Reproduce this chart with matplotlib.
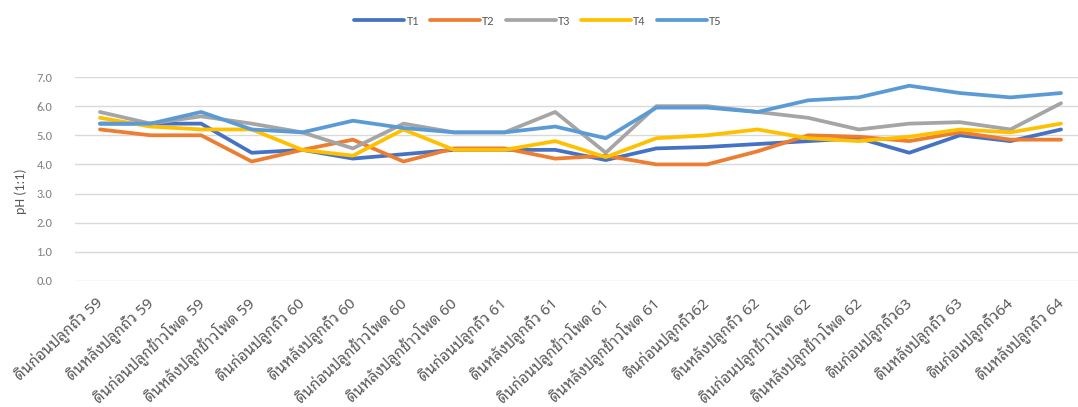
import matplotlib
matplotlib.use("Agg")
import matplotlib.pyplot as plt
from matplotlib import font_manager

# pick a font that has Thai glyphs, keep DejaVu as fallback for the rest
have = {f.name for f in font_manager.fontManager.ttflist}
thai = [n for n in ["Noto Sans Thai Looped", "Noto Sans Thai", "Sarabun", "Prompt", "Kanit"] if n in have]
latin = [n for n in ["Carlito", "Open Sans"] if n in have]
plt.rcParams["font.family"] = latin[:1] + thai[:1] + ["DejaVu Sans"]

# ---- data ----
categories = [
    "ดินก่อนปลูกถั่ว 59", "ดินหลังปลูกถั่ว 59",
    "ดินก่อนปลูกข้าวโพด 59", "ดินหลังปลูกข้าวโพด 59",
    "ดินก่อนปลูกถั่ว 60", "ดินหลังปลูกถั่ว 60",
    "ดินก่อนปลูกข้าวโพด 60", "ดินหลังปลูกข้าวโพด 60",
    "ดินก่อนปลูกถั่ว 61", "ดินหลังปลูกถั่ว 61",
    "ดินก่อนปลูกข้าวโพด 61", "ดินหลังปลูกข้าวโพด 61",
    "ดินก่อนปลูกถั่ว62", "ดินหลังปลูกถั่ว 62",
    "ดินก่อนปลูกข้าวโพด 62", "ดินหลังปลูกข้าวโพด 62",
    "ดินก่อนปลูกถั่ว63", "ดินหลังปลูกถั่ว 63",
    "ดินก่อนปลูกถั่ว64", "ดินหลังปลูกถั่ว 64",
]
T1 = [5.4, 5.4, 5.4, 4.4, 4.5, 4.2, 4.35, 4.5, 4.5, 4.5,
      4.15, 4.55, 4.6, 4.7, 4.8, 4.9, 4.4, 5.0, 4.8, 5.2]
T2 = [5.2, 5.0, 5.0, 4.1, 4.5, 4.85, 4.1, 4.55, 4.55, 4.2,
      4.3, 4.0, 4.0, 4.45, 5.0, 4.95, 4.8, 5.1, 4.85, 4.85]
T3 = [5.8, 5.4, 5.65, 5.4, 5.1, 4.55, 5.4, 5.1, 5.1, 5.8,
      4.4, 6.0, 6.0, 5.8, 5.6, 5.2, 5.4, 5.45, 5.2, 6.1]
T4 = [5.6, 5.3, 5.2, 5.2, 4.5, 4.3, 5.2, 4.5, 4.5, 4.8,
      4.25, 4.9, 5.0, 5.2, 4.9, 4.8, 4.95, 5.2, 5.1, 5.4]
T5 = [5.4, 5.4, 5.8, 5.2, 5.1, 5.5, 5.25, 5.1, 5.1, 5.3,
      4.9, 5.95, 5.95, 5.8, 6.2, 6.3, 6.7, 6.45, 6.3, 6.45]
series = {"T1": T1, "T2": T2, "T3": T3, "T4": T4, "T5": T5}
colors = {"T1": "#4472C4", "T2": "#ED7D31", "T3": "#A5A5A5",
          "T4": "#FFC000", "T5": "#5B9BD5"}

fig = plt.figure(figsize=(10.78, 4.07), dpi=100)
ax = fig.add_axes([0.0693, 0.3096, 0.9384, 0.5012])

x = list(range(len(categories)))
for name, vals in series.items():
    ax.plot(x, vals, color=colors[name], lw=2.7, label=name,
            solid_joinstyle="round", solid_capstyle="round")

ax.set_xlim(-0.5, len(categories) - 0.5)
ax.set_ylim(0, 7)
ax.set_yticks([0, 1, 2, 3, 4, 5, 6, 7])
ax.set_yticklabels(["%.1f" % v for v in range(8)])
ax.grid(axis="y", color="#D9D9D9", lw=1)
ax.set_axisbelow(True)
for s in ax.spines.values():
    s.set_visible(False)
ax.tick_params(axis="y", length=0, labelsize=9, labelcolor="#7F7F7F", pad=16)
ax.tick_params(axis="x", length=0, labelcolor="#595959", pad=14)

ax.set_xticks(x)
ax.set_xticklabels(categories, rotation=43, ha="right", va="center",
                   rotation_mode="anchor",
                   fontsize=11, family=thai[:1] + ["DejaVu Sans"])

ax.set_ylabel("pH (1:1)", fontsize=10, color="#595959", labelpad=8)
ax.yaxis.set_label_coords(-0.047, 0.44)

fig.legend(loc="upper center", bbox_to_anchor=(0.499, 1.0), ncol=5, frameon=False,
           fontsize=9, handlelength=4.0, columnspacing=0.9, handletextpad=0.15,
           labelcolor="#595959", borderaxespad=0.85)

fig.savefig("out.png", dpi=100)
